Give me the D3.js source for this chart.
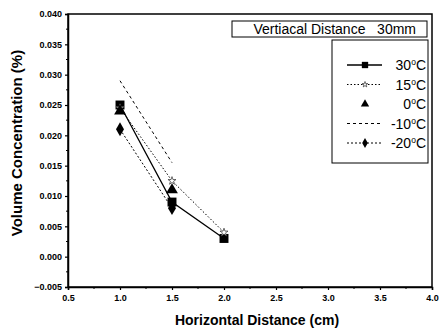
<!DOCTYPE html>
<html><head><meta charset="utf-8">
<script src="https://cdn.jsdelivr.net/npm/d3@7"></script>
<style>body{margin:0;background:#fff}svg{display:block}text{white-space:pre}</style>
</head><body>
<script>
const xValues = [1.0, 1.5, 2.0];
const s30 = [0.025, 0.009, 0.003];
const s15 = [0.0245, 0.0125, 0.004];
const s0 = [0.024, 0.011, null];
const sm10 = [0.029, 0.0155, null];
const sm20 = [0.021, 0.008, null];
const xTicks = [0.5, 1.0, 1.5, 2.0, 2.5, 3.0, 3.5, 4.0];
const yTicks = [-0.005, 0, 0.005, 0.01, 0.015, 0.02, 0.025, 0.03, 0.035, 0.04];
const legendLabels = ["30", "15", "0", "-10", "-20"];
const boxTitle = "Vertiacal Distance   30mm";

const W = 447, H = 332;
const svg = d3.select("body").append("svg").attr("width", W).attr("height", H);
const x = d3.scaleLinear().domain([0.5, 4.0]).range([68, 432]);
const y = d3.scaleLinear().domain([-0.005, 0.04]).range([287, 14]);
const font = "'Liberation Sans', Arial, sans-serif";

// frame
svg.append("rect").attr("x", 68).attr("y", 14).attr("width", 364).attr("height", 273)
  .attr("fill", "none").attr("stroke", "#000").attr("stroke-width", 1.5);

// axes
const xAxis = d3.axisBottom(x).tickValues(xTicks).tickFormat(d3.format(".1f")).tickSize(3).tickPadding(5);
const gx = svg.append("g").attr("transform", "translate(0,287)").call(xAxis);
const yAxis = d3.axisLeft(y).tickValues(yTicks).tickFormat(d3.format(".3f")).tickSize(3).tickPadding(3);
const gy = svg.append("g").attr("transform", "translate(68,0)").call(yAxis);
[gx, gy].forEach(g => {
  g.select(".domain").attr("stroke", "#000").attr("stroke-width", 1.5);
  g.selectAll(".tick line").attr("stroke", "#000").attr("stroke-width", 1.2);
  g.selectAll("text").attr("font-family", font).attr("font-weight", "bold").attr("font-size", 9).attr("fill", "#000");
});
// minor ticks
const xMinor = d3.range(0.75, 4.0, 0.5);
svg.append("g").selectAll("line").data(xMinor).join("line")
  .attr("x1", d => x(d)).attr("x2", d => x(d)).attr("y1", 287).attr("y2", 289).attr("stroke", "#000");
const yMinor = d3.range(-0.0025, 0.04, 0.005);
svg.append("g").selectAll("line").data(yMinor).join("line")
  .attr("x1", 66).attr("x2", 68).attr("y1", d => y(d)).attr("y2", d => y(d)).attr("stroke", "#000");

// axis titles
svg.append("text").attr("x", 257).attr("y", 325).attr("text-anchor", "middle")
  .attr("font-family", font).attr("font-weight", "bold").attr("font-size", 14).text("Horizontal Distance (cm)");
svg.append("text").attr("transform", "translate(22,143) rotate(-90)").attr("text-anchor", "middle")
  .attr("font-family", font).attr("font-weight", "bold").attr("font-size", 15).text("Volume Concentration (%)");

// series definitions
const series = [
  {vals: s30, dash: null, sw: 1.3, marker: "square"},
  {vals: s15, dash: "1.5,2", sw: 1, marker: "star"},
  {vals: s0, dash: null, sw: 0, marker: "triangle"},
  {vals: sm10, dash: "3,3", sw: 1, marker: null},
  {vals: sm20, dash: "2,2", sw: 1, marker: "diamond"}
];
const symbols = {square: d3.symbolSquare, triangle: d3.symbolTriangle, diamond: d3.symbolDiamond, star: d3.symbolStar};
const sizes = {square: 80, triangle: 60, diamond: 55, star: 20};

const line = d3.line().defined(d => d[1] != null).x(d => x(d[0])).y(d => y(d[1]));
series.forEach(s => {
  const pts = xValues.map((xv, i) => [xv, s.vals[i]]);
  if (s.sw > 0) {
    svg.append("path").datum(pts).attr("d", line).attr("fill", "none")
      .attr("stroke", "#000").attr("stroke-width", s.sw).attr("stroke-dasharray", s.dash);
  }
  if (s.marker) {
    svg.append("g").selectAll("path").data(pts.filter(d => d[1] != null)).join("path")
      .attr("transform", d => `translate(${x(d[0])},${y(d[1])})`)
      .attr("d", d3.symbol().type(symbols[s.marker]).size(sizes[s.marker]))
      .attr("fill", s.marker === "star" ? "#fff" : "#000")
      .attr("stroke", s.marker === "star" ? "#444" : "none").attr("stroke-width", 0.8);
  }
});

// title box
svg.append("rect").attr("x", 232).attr("y", 21).attr("width", 195).attr("height", 16)
  .attr("fill", "#fff").attr("stroke", "#000").attr("stroke-width", 1);
svg.append("text").attr("x", 416).attr("y", 34).attr("text-anchor", "end")
  .attr("font-family", font).attr("font-size", 14).text(boxTitle);

// legend
svg.append("rect").attr("x", 332).attr("y", 40).attr("width", 96).attr("height", 123)
  .attr("fill", "#fff").attr("stroke", "#000").attr("stroke-width", 1);
const lg = svg.append("g");
series.forEach((s, i) => {
  const ly = 65 + i * 19.5;
  if (s.sw > 0) {
    lg.append("line").attr("x1", 347).attr("x2", 382).attr("y1", ly).attr("y2", ly)
      .attr("stroke", "#000").attr("stroke-width", s.sw).attr("stroke-dasharray", s.dash);
  }
  if (s.marker) {
    lg.append("path").attr("transform", `translate(365,${ly})`)
      .attr("d", d3.symbol().type(symbols[s.marker]).size(sizes[s.marker] * 0.5))
      .attr("fill", s.marker === "star" ? "#fff" : "#000")
      .attr("stroke", s.marker === "star" ? "#444" : "none").attr("stroke-width", 0.8);
  }
  const t = lg.append("text").attr("x", 426).attr("y", ly + 5).attr("text-anchor", "end")
    .attr("font-family", font).attr("font-size", 14);
  t.append("tspan").text(legendLabels[i]);
  t.append("tspan").attr("dy", -5).attr("font-size", 8.5).text("o");
  t.append("tspan").attr("dy", 5).text("C");
});
</script>
</body></html>
